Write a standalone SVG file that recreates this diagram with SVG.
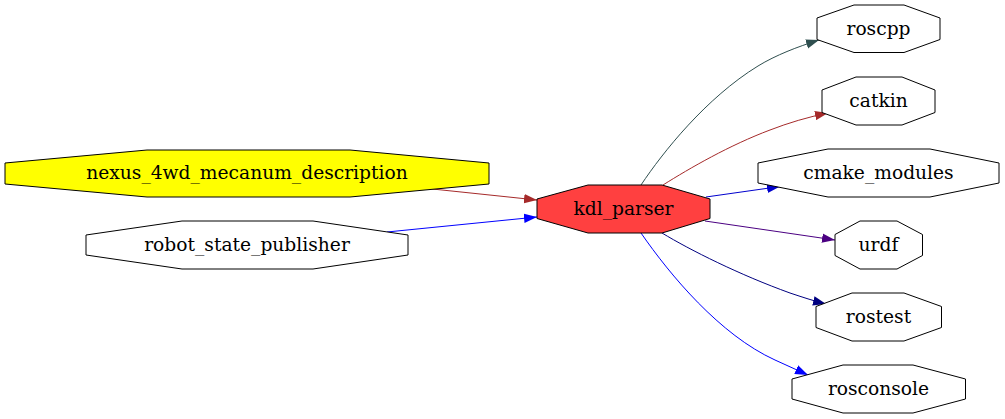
<svg xmlns="http://www.w3.org/2000/svg" width="1005" height="419" viewBox="0 0 1005 419">
<style>
.n polygon{stroke:#000;stroke-width:1;fill:#fff}
.n text{font-family:"DejaVu Serif","Liberation Serif",serif;font-size:18.67px;text-anchor:middle;fill:#000}
.e path{fill:none;stroke-width:1}
</style>
<defs>
<marker id="a1" markerWidth="13" markerHeight="10" viewBox="0 0 13 10" refX="13" refY="5" orient="auto" markerUnits="userSpaceOnUse"><path d="M0,0.3L13,5L0,9.7z" fill="#a52a2a"/></marker>
<marker id="a2" markerWidth="13" markerHeight="10" viewBox="0 0 13 10" refX="13" refY="5" orient="auto" markerUnits="userSpaceOnUse"><path d="M0,0.3L13,5L0,9.7z" fill="#0000ff"/></marker>
<marker id="a3" markerWidth="13" markerHeight="10" viewBox="0 0 13 10" refX="13" refY="5" orient="auto" markerUnits="userSpaceOnUse"><path d="M0,0.3L13,5L0,9.7z" fill="#2f4f4f"/></marker>
<marker id="a4" markerWidth="13" markerHeight="10" viewBox="0 0 13 10" refX="13" refY="5" orient="auto" markerUnits="userSpaceOnUse"><path d="M0,0.3L13,5L0,9.7z" fill="#0000cd"/></marker>
<marker id="a5" markerWidth="13" markerHeight="10" viewBox="0 0 13 10" refX="13" refY="5" orient="auto" markerUnits="userSpaceOnUse"><path d="M0,0.3L13,5L0,9.7z" fill="#4b0082"/></marker>
<marker id="a6" markerWidth="13" markerHeight="10" viewBox="0 0 13 10" refX="13" refY="5" orient="auto" markerUnits="userSpaceOnUse"><path d="M0,0.3L13,5L0,9.7z" fill="#000080"/></marker>
</defs>
<g id="edges" class="e">
<path d="M423,188 L537,200" stroke="#a52a2a" marker-end="url(#a1)"/>
<path d="M387,232 L537,217" stroke="#0000ff" marker-end="url(#a2)"/>
<path d="M641,185 C663,152 706,98 758,66 C776,55 797,47 819,40" stroke="#2f4f4f" marker-end="url(#a3)"/>
<path d="M663,185 C690,168 730,145 770,130 C788,123 808,117 828,113" stroke="#a52a2a" marker-end="url(#a1)"/>
<path d="M706,197 L780,186.5" stroke="#0000cd" marker-end="url(#a4)"/>
<path d="M705,221 L835,240" stroke="#4b0082" marker-end="url(#a5)"/>
<path d="M662,233 C690,250 740,275 790,293 C802,297 814,301 826,304" stroke="#000080" marker-end="url(#a6)"/>
<path d="M641,233 C670,275 720,335 775,360 C786,365 797,370 808,375" stroke="#0000ff" marker-end="url(#a2)"/>
</g>
<g id="nexus_4wd_mecanum_description" class="n">
<polygon points="5,163 147,150 350,150 489,163 489,184 350,197 147,197 5,184" style="fill:#ffff00"/>
<text x="247" y="179">nexus_4wd_mecanum_description</text>
</g>
<g id="robot_state_publisher" class="n">
<polygon points="86,235 182,221 313,221 408,235 408,255 313,269 182,269 86,255"/>
<text x="247" y="251">robot_state_publisher</text>
</g>
<g id="kdl_parser" class="n">
<polygon points="537,199 588,185 662,185 710,199 710,218.5 662,233 588,233 537,218.5" style="fill:#ff4040"/>
<text x="623.5" y="215">kdl_parser</text>
</g>
<g id="roscpp" class="n">
<polygon points="817,18 854,5 904,5 940,18 940,39.5 904,52.5 854,52.5 817,39.5"/>
<text x="878.5" y="35">roscpp</text>
</g>
<g id="catkin" class="n">
<polygon points="822,90 856,77 902,77 935,90 935,112.5 902,125 856,125 822,112.5"/>
<text x="878.5" y="107">catkin</text>
</g>
<g id="cmake_modules" class="n">
<polygon points="758,163 828,149 930,149 999,163 999,183 930,197 828,197 758,183"/>
<text x="878.5" y="179">cmake_modules</text>
</g>
<g id="urdf" class="n">
<polygon points="835,234.5 860,221 897,221 922.5,234.5 922.5,255.5 897,269 860,269 835,255.5"/>
<text x="878.5" y="251">urdf</text>
</g>
<g id="rostest" class="n">
<polygon points="816,306.5 852,293 904,293 941.5,306.5 941.5,327.5 904,341 852,341 816,327.5"/>
<text x="878.5" y="323">rostest</text>
</g>
<g id="rosconsole" class="n">
<polygon points="792,379 843,365 913,365 965.5,379 965.5,399 913,413 843,413 792,399"/>
<text x="878.5" y="395">rosconsole</text>
</g>
</svg>
